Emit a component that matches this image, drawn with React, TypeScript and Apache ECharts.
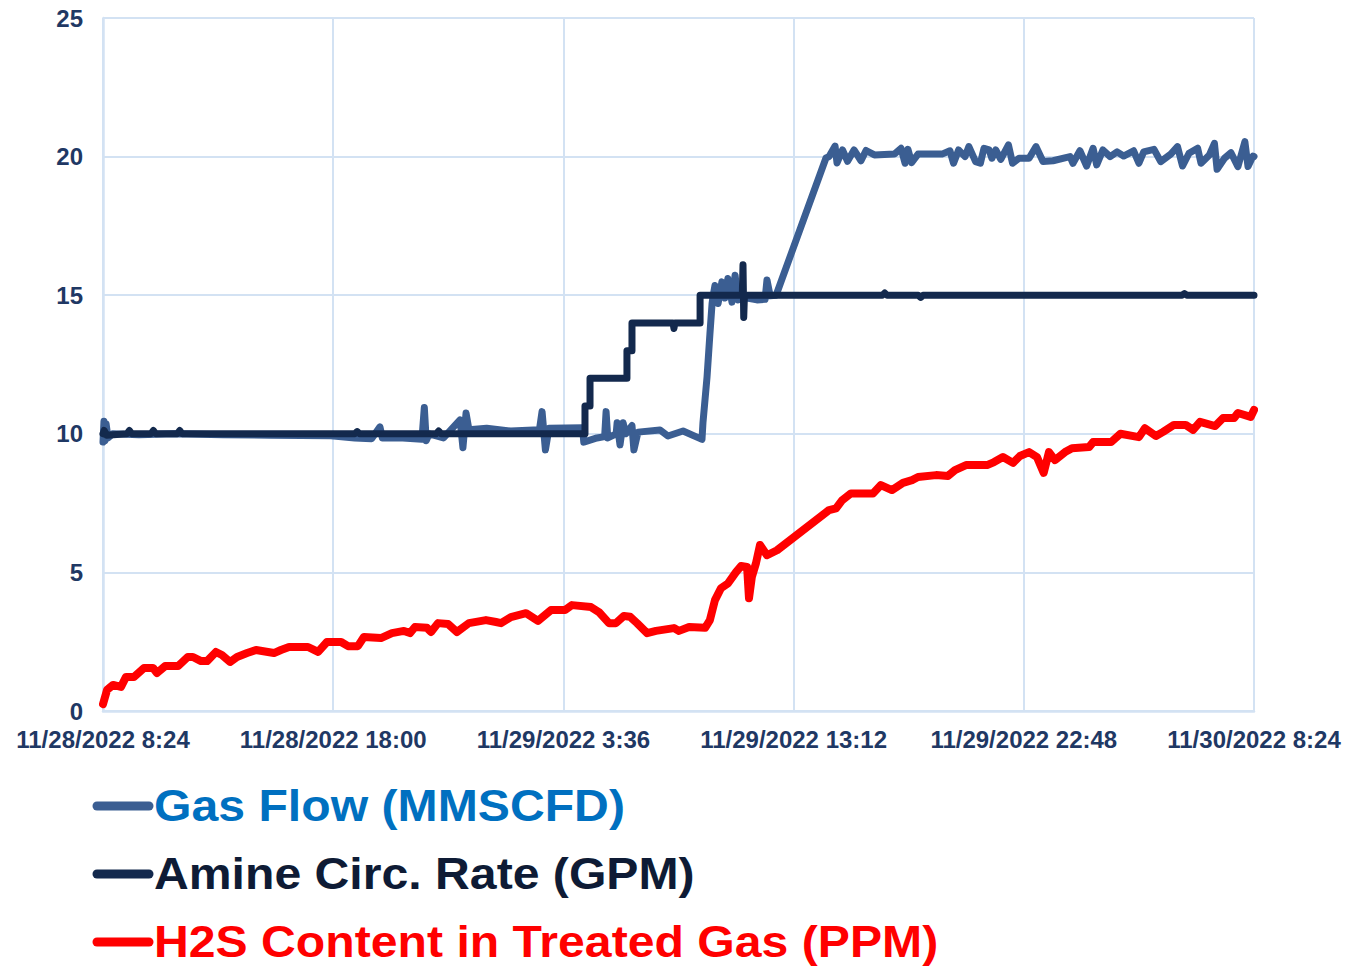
import React, { useEffect, useRef } from "react";
import * as echarts from "echarts";

// x = hours since 11/28/2022 8:24
const xTickLabels = [
  "11/28/2022 8:24",
  "11/28/2022 18:00",
  "11/29/2022 3:36",
  "11/29/2022 13:12",
  "11/29/2022 22:48",
  "11/30/2022 8:24",
];

const legendNames = [
  "Gas Flow (MMSCFD)",
  "Amine Circ. Rate (GPM)",
  "H2S Content in Treated Gas (PPM)",
];

const gasFlow: [number, number][] = [
  [0, 9.7], [0.04, 10.45], [0.08, 9.75], [0.13, 10.35], [0.21, 9.85], [0.4, 10.0],
  [1.5, 9.97], [3.0, 10.0], [5.0, 9.97], [7.0, 9.95], [9.5, 9.93], [10.5, 9.85],
  [11.2, 9.82], [11.55, 10.25], [11.65, 9.85], [12.5, 9.85], [13.3, 9.8],
  [13.4, 10.95], [13.48, 9.75], [13.6, 10.0], [14.2, 9.85], [14.89, 10.5],
  [15.01, 9.5], [15.14, 10.75], [15.26, 10.15], [16.0, 10.2], [17.0, 10.1],
  [18.2, 10.15], [18.31, 10.8], [18.45, 9.42], [18.6, 10.2], [20.0, 10.22],
  [20.05, 9.7], [20.6, 9.85], [20.92, 9.9], [20.98, 10.8], [21.05, 9.85],
  [21.4, 10.0], [21.44, 10.4], [21.56, 9.6], [21.69, 10.4], [21.8, 10.0],
  [22.06, 10.3], [22.14, 9.42], [22.31, 10.06], [23.23, 10.14], [23.56, 9.92],
  [24.19, 10.1], [24.98, 9.8], [25.02, 10.4], [25.19, 12.05], [25.31, 13.6],
  [25.4, 14.7], [25.44, 14.95], [25.52, 15.35], [25.65, 14.7], [25.81, 15.48],
  [25.94, 14.9], [26.06, 15.6], [26.23, 14.75], [26.36, 15.72], [26.48, 14.83],
  [26.86, 14.9], [27.27, 14.83], [27.61, 14.85], [27.69, 15.55], [27.82, 14.98],
  [28.07, 15.0], [30.15, 19.95], [30.28, 20.0], [30.53, 20.38], [30.61, 19.77],
  [30.84, 20.24], [31.05, 19.83], [31.32, 20.24], [31.61, 19.85], [31.82, 20.22],
  [32.17, 20.06], [33.0, 20.09], [33.28, 20.3], [33.45, 19.76], [33.57, 20.26],
  [33.72, 19.78], [33.99, 20.09], [34.99, 20.09], [35.32, 20.21], [35.47, 19.76],
  [35.68, 20.24], [35.95, 20.0], [36.11, 20.36], [36.39, 19.82], [36.59, 19.76],
  [36.74, 20.3], [36.95, 20.24], [37.07, 19.94], [37.23, 20.24], [37.44, 19.9],
  [37.76, 20.42], [37.93, 19.76], [38.2, 19.94], [38.62, 19.94], [38.91, 20.36],
  [39.2, 19.82], [39.62, 19.85], [40.33, 20.0], [40.45, 19.76], [40.74, 20.21],
  [41.02, 19.66], [41.29, 20.3], [41.44, 19.7], [41.7, 20.24], [42.0, 20.0],
  [42.29, 20.17], [42.56, 20.02], [42.98, 20.21], [43.2, 19.76], [43.4, 20.17],
  [43.83, 20.26], [44.11, 19.82], [44.53, 20.09], [44.81, 20.36], [45.02, 19.66],
  [45.29, 20.12], [45.65, 20.3], [45.79, 19.76], [46.14, 20.06], [46.35, 20.48],
  [46.46, 19.54], [46.77, 19.94], [47.04, 20.14], [47.33, 19.64], [47.62, 20.54],
  [47.75, 19.64], [47.96, 20.02], [48, 20.0],
];

const amineRate: [number, number][] = [
  [0, 10.0], [0.05, 10.12], [0.15, 9.95], [1.0, 10.0], [1.1, 10.12], [1.2, 10.0],
  [2.0, 10.0], [2.1, 10.12], [2.2, 10.0], [3.1, 10.0], [3.2, 10.12], [3.3, 10.0],
  [10.5, 10.0], [10.6, 10.08], [10.7, 10.0], [13.9, 10.0], [14.0, 10.1], [14.1, 10.0],
  [20.1, 10.0], [20.1, 11.0], [20.31, 11.0], [20.31, 12.0], [21.85, 12.0],
  [21.85, 13.0], [22.06, 13.0], [22.06, 14.0], [23.77, 14.0], [23.81, 13.8],
  [23.85, 14.0], [24.9, 14.0], [24.9, 15.0], [26.66, 15.0], [26.69, 16.1],
  [26.72, 14.2], [26.75, 15.0], [32.5, 15.0], [32.6, 15.08], [32.7, 15.0],
  [34.0, 15.0], [34.1, 14.92], [34.2, 15.0], [45.0, 15.0], [45.1, 15.06],
  [45.2, 15.0], [48, 15.0],
];

const h2sContent: [number, number][] = [
  [0, 0.25], [0.17, 0.76], [0.42, 0.94], [0.75, 0.87], [0.96, 1.23], [1.29, 1.23],
  [1.71, 1.55], [2.09, 1.55], [2.25, 1.37], [2.59, 1.62], [3.13, 1.62], [3.54, 1.95],
  [3.75, 1.95], [4.09, 1.8], [4.34, 1.8], [4.71, 2.13], [4.96, 2.02], [5.3, 1.77],
  [5.59, 1.95], [6.01, 2.09], [6.38, 2.2], [7.13, 2.09], [7.42, 2.2], [7.76, 2.31],
  [8.55, 2.31], [8.97, 2.13], [9.34, 2.49], [9.93, 2.49], [10.22, 2.34], [10.63, 2.34],
  [10.88, 2.67], [11.59, 2.63], [12.05, 2.81], [12.55, 2.89], [12.8, 2.81], [13.01, 3.03],
  [13.51, 3.0], [13.68, 2.85], [13.97, 3.17], [14.39, 3.14], [14.76, 2.85], [15.26, 3.17],
  [15.97, 3.28], [16.39, 3.21], [16.6, 3.17], [17.01, 3.39], [17.64, 3.53], [18.14, 3.25],
  [18.68, 3.64], [19.27, 3.64], [19.56, 3.82], [20.35, 3.75], [20.68, 3.57], [21.1, 3.17],
  [21.39, 3.17], [21.72, 3.43], [21.98, 3.4], [22.27, 3.17], [22.69, 2.81], [23.06, 2.89],
  [23.81, 2.99], [24.02, 2.89], [24.44, 3.03], [25.11, 3.0], [25.31, 3.28], [25.52, 4.0],
  [25.77, 4.43], [26.06, 4.6], [26.39, 5.0], [26.61, 5.23], [26.86, 5.2], [26.94, 4.07],
  [27.06, 4.84], [27.23, 5.33], [27.4, 5.99], [27.69, 5.62], [28.11, 5.8], [30.28, 7.25],
  [30.57, 7.31], [30.82, 7.6], [31.19, 7.85], [32.11, 7.85], [32.44, 8.15], [32.9, 7.97],
  [33.36, 8.23], [33.74, 8.33], [33.99, 8.44], [34.74, 8.51], [35.24, 8.48], [35.53, 8.69],
  [35.99, 8.87], [36.87, 8.87], [37.16, 8.98], [37.53, 9.16], [37.95, 8.95], [38.24, 9.2],
  [38.62, 9.34], [38.95, 9.16], [39.23, 8.59], [39.45, 9.34], [39.7, 9.05], [40.12, 9.34],
  [40.41, 9.48], [41.12, 9.52], [41.29, 9.7], [42.04, 9.7], [42.43, 10.0], [43.2, 9.88],
  [43.45, 10.2], [43.91, 9.92], [44.21, 10.07], [44.66, 10.32], [45.15, 10.32],
  [45.46, 10.14], [45.75, 10.43], [46.38, 10.28], [46.71, 10.57], [47.17, 10.57],
  [47.33, 10.75], [47.86, 10.61], [48, 10.86],
];

const gasColor = "#3B5E92";
const amineColor = "#13294D";
const h2sColor = "#FF0000";
const labelColor = "#1F3864";
const gridColor = "#D3E2F3";

export default function App() {
  const ref = useRef<HTMLDivElement>(null);

  useEffect(() => {
    if (!ref.current) return;
    const chart = echarts.init(ref.current, null, { renderer: "svg" });
    const legendFont = {
      fontFamily: '"Liberation Sans", Arial, sans-serif',
      fontWeight: "bold" as const,
      fontSize: 44,
    };
    const legendRows = [
      { y: 806, line: gasColor, text: "#0070C0", name: legendNames[0] },
      { y: 874, line: amineColor, text: "#0E1B35", name: legendNames[1] },
      { y: 942, line: h2sColor, text: "#FF0000", name: legendNames[2] },
    ];
    const graphic: any[] = [];
    legendRows.forEach((r) => {
      graphic.push({
        type: "line",
        shape: { x1: 97, y1: r.y, x2: 149, y2: r.y },
        style: { stroke: r.line, lineWidth: 9, lineCap: "round" },
      });
      graphic.push({
        type: "text",
        x: 154,
        y: r.y,
        scaleX: 1.095,
        scaleY: 1,
        style: {
          text: r.name,
          fill: r.text,
          ...legendFont,
          align: "left",
          verticalAlign: "middle",
        },
      });
    });

    chart.setOption({
      animation: false,
      backgroundColor: "#FFFFFF",
      grid: { left: 103, right: 109, top: 18, bottom: 255, containLabel: false },
      xAxis: {
        type: "value",
        min: 0,
        max: 48,
        interval: 9.6,
        axisLine: { show: true, lineStyle: { color: gridColor, width: 2.5 } },
        axisTick: { show: false },
        splitLine: { show: true, lineStyle: { color: gridColor, width: 2 } },
        axisLabel: {
          color: labelColor,
          fontFamily: '"Liberation Sans", Arial, sans-serif',
          fontWeight: "bold",
          fontSize: 24,
          margin: 16,
          showMinLabel: true,
          showMaxLabel: true,
          formatter: (v: number) => xTickLabels[Math.round(v / 9.6)] ?? "",
        },
      },
      yAxis: {
        type: "value",
        min: 0,
        max: 25,
        interval: 5,
        axisLine: { show: true, lineStyle: { color: gridColor, width: 2.5 } },
        axisTick: { show: false },
        splitLine: { show: true, lineStyle: { color: gridColor, width: 2 } },
        axisLabel: {
          color: labelColor,
          fontFamily: '"Liberation Sans", Arial, sans-serif',
          fontWeight: "bold",
          fontSize: 24,
          margin: 20,
        },
      },
      series: [
        {
          name: legendNames[0],
          type: "line",
          data: gasFlow,
          showSymbol: false,
          lineStyle: { color: gasColor, width: 7, cap: "round", join: "round" },
          itemStyle: { color: gasColor },
          z: 2,
        },
        {
          name: legendNames[1],
          type: "line",
          data: amineRate,
          showSymbol: false,
          lineStyle: { color: amineColor, width: 7, cap: "round", join: "round" },
          itemStyle: { color: amineColor },
          z: 3,
        },
        {
          name: legendNames[2],
          type: "line",
          data: h2sContent,
          showSymbol: false,
          lineStyle: { color: h2sColor, width: 8, cap: "round", join: "round" },
          itemStyle: { color: h2sColor },
          z: 4,
        },
      ],
      graphic,
    });
    return () => chart.dispose();
  }, []);

  return (
    <div
      ref={ref}
      style={{ position: "absolute", left: 0, top: 0, width: 1363, height: 966 }}
    />
  );
}
